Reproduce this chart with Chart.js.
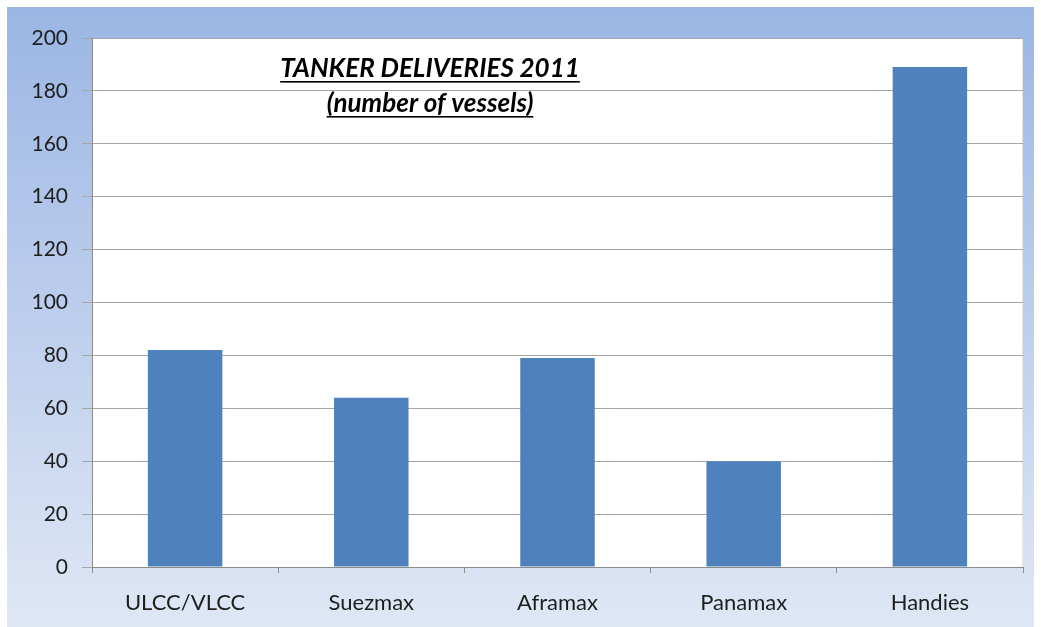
<!DOCTYPE html>
<html>
<head>
<meta charset="utf-8">
<script src="https://cdn.jsdelivr.net/npm/chart.js@4"></script>
<style>
  html, body { margin: 0; padding: 0; background: #fff; }
  #wrap { position: relative; width: 1041px; height: 627px; }
</style>
</head>
<body>
<div id="wrap"><canvas id="tankerChart"></canvas></div>
<script>
const categories = ["ULCC/VLCC", "Suezmax", "Aframax", "Panamax", "Handies"];
const deliveries = [82, 64, 79, 40, 189];
const titleLines = ["TANKER DELIVERIES 2011", "(number of vessels)"];

// panel gradient + white plot area + underlined title
const panelPlugin = {
    id: "panel",
    beforeDraw(chart) {
        const { ctx, chartArea } = chart;
        ctx.save();
        const g = ctx.createLinearGradient(0, 7, 0, 627);
        g.addColorStop(0, "#9bb6e4");
        g.addColorStop(1, "#dfe7f5");
        ctx.fillStyle = g;
        ctx.fillRect(7, 7, 1027, 620);
        ctx.fillStyle = "#ffffff";
        ctx.fillRect(chartArea.left, chartArea.top, chartArea.right - chartArea.left, chartArea.bottom - chartArea.top);
        ctx.strokeStyle = "#9a9a9a";
        ctx.lineWidth = 1;
        ctx.beginPath();
        ctx.moveTo(chartArea.left, chartArea.top + 0.5);
        ctx.lineTo(chartArea.right, chartArea.top + 0.5);
        ctx.stroke();
        ctx.strokeStyle = "#e6e6e6";
        ctx.beginPath();
        ctx.moveTo(chartArea.right - 0.5, chartArea.top);
        ctx.lineTo(chartArea.right - 0.5, chartArea.bottom);
        ctx.stroke();
        ctx.restore();
    },
    afterDraw(chart) {
        const { ctx } = chart;
        ctx.save();
        ctx.font = "italic bold 26px Lato";
        ctx.fillStyle = "#000";
        ctx.textAlign = "center";
        ctx.textBaseline = "alphabetic";
        const cx = 430;
        const ys = [77, 112];
        titleLines.forEach((t, i) => {
            ctx.fillText(t, cx, ys[i]);
            const w = ctx.measureText(t).width;
            ctx.fillRect(cx - w / 2, ys[i] + 4, w, 1.6);
        });
        ctx.restore();
    }
};

new Chart(document.getElementById("tankerChart"), {
    type: "bar",
    data: {
        labels: categories,
        datasets: [{
            data: deliveries,
            backgroundColor: "#4f81bd",
            borderWidth: 0,
            barPercentage: 1,
            categoryPercentage: 0.4
        }]
    },
    options: {
        responsive: true,
        maintainAspectRatio: false,
        animation: false,
        layout: { padding: { left: 0, top: 38, right: 18, bottom: 0 } },
        plugins: { legend: { display: false }, tooltip: { enabled: false } },
        scales: {
            x: {
                afterFit(scale) { scale.height = 60; },
                grid: { offset: true, drawOnChartArea: false, drawTicks: true, tickLength: 6, color: "#8c8c8c" },
                border: { color: "#8c8c8c" },
                ticks: { color: "#1e1e1e", font: { family: "Lato", size: 22 }, padding: 17 }
            },
            y: {
                min: 0,
                max: 200,
                afterFit(scale) { scale.width = 92; },
                grid: { color: "#a6a6a6", tickLength: 10 },
                border: { color: "#8c8c8c" },
                ticks: { stepSize: 20, color: "#1e1e1e", font: { family: "Lato", size: 21 }, padding: 14 }
            }
        }
    },
    plugins: [panelPlugin]
});
</script>
</body>
</html>
